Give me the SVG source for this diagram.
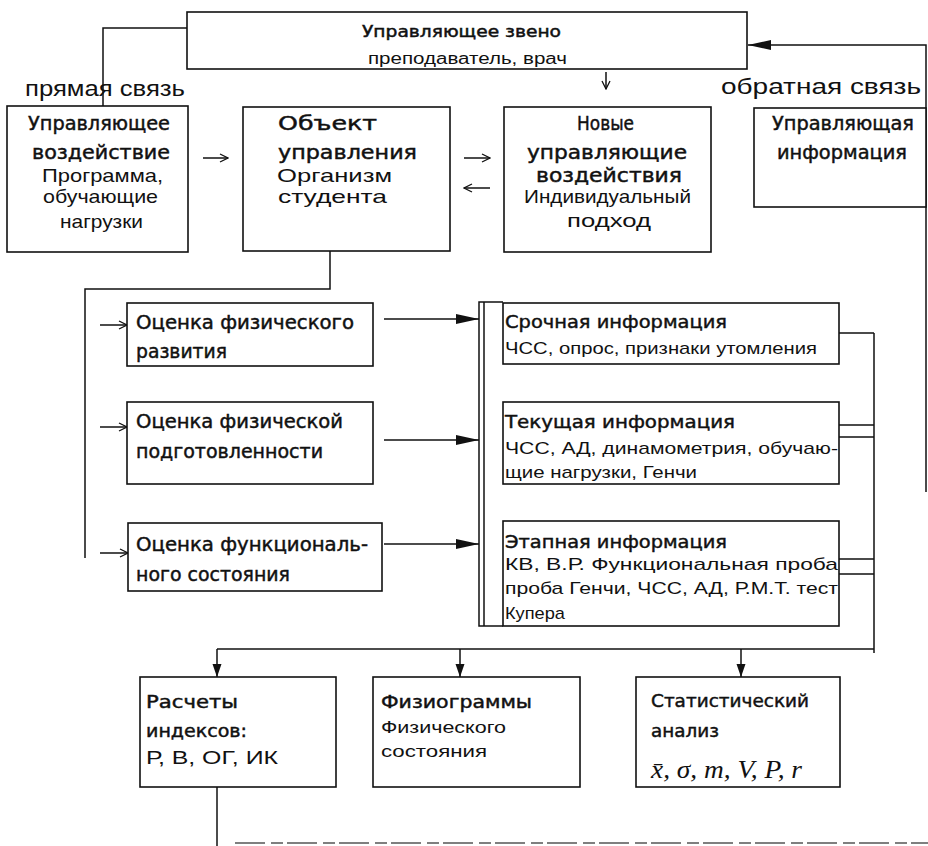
<svg xmlns="http://www.w3.org/2000/svg" width="928" height="846" viewBox="0 0 928 846">
<style>
.box{fill:#fff;stroke:#111;stroke-width:1.6}
.ln{fill:none;stroke:#111;stroke-width:1.5}
.h{font-family:"DejaVu Sans","Liberation Sans",sans-serif;fill:#111;stroke:#111;stroke-width:0.45}
.b{font-family:"Liberation Sans",Arial,sans-serif;fill:#111}
.m{font-family:"Liberation Serif","Times New Roman",serif;font-style:italic;fill:#111}
</style>
<defs>
<marker id="big" markerUnits="userSpaceOnUse" markerWidth="24" markerHeight="12" refX="23" refY="6" orient="auto"><path d="M0,1 L23,6 L0,11 z" fill="#111"/></marker>
<marker id="sm" markerUnits="userSpaceOnUse" markerWidth="14" markerHeight="10" refX="13" refY="5" orient="auto"><path d="M0,0.5 L13,5 L0,9.5 z" fill="#111"/></marker>
<marker id="open" markerUnits="userSpaceOnUse" markerWidth="10" markerHeight="10" refX="9" refY="5" orient="auto"><path d="M1,1 L9,5 L1,9" fill="none" stroke="#111" stroke-width="1.3"/></marker>
</defs>

<g id="connectors">
<path class="ln" d="M187,28 H103 V106"/>
<path class="ln" d="M926,492 V45 H748" marker-end="url(#big)"/>
<path class="ln" d="M606,72 V89" marker-end="url(#open)"/>
<path class="ln" d="M203,158 H228" marker-end="url(#open)"/>
<path class="ln" d="M464,158 H490" marker-end="url(#open)"/>
<path class="ln" d="M490,188 H464" marker-end="url(#open)"/>
<path class="ln" d="M330,251 V289 H85 V558"/>
<path class="ln" d="M100,325 H127" marker-end="url(#open)"/>
<path class="ln" d="M100,427 H127" marker-end="url(#open)"/>
<path class="ln" d="M100,553 H128" marker-end="url(#open)"/>
<path class="ln" d="M384,319 H479" marker-end="url(#big)"/>
<path class="ln" d="M384,440 H479" marker-end="url(#big)"/>
<path class="ln" d="M384,544 H479" marker-end="url(#big)"/>
<path class="ln" d="M503,302 H479 V626 H503"/>
<path class="ln" d="M484,302 V626"/>
<path class="ln" d="M839,333 H874 M839,425 H874 M839,437 H874 M839,559 H874 M839,574 H874 M874,333 V653"/>
<path class="ln" d="M217,649 H874"/>
<path class="ln" d="M217,649 V677" marker-end="url(#sm)"/>
<path class="ln" d="M460,649 V677" marker-end="url(#sm)"/>
<path class="ln" d="M741,649 V677" marker-end="url(#sm)"/>
<path class="ln" d="M217,787 V846"/>
<path d="M235,843 H928" fill="none" stroke="#555" stroke-width="1.5" stroke-dasharray="30,6,12,4"/>
</g>

<text class="b" x="25" y="96" font-size="22" textLength="160" lengthAdjust="spacingAndGlyphs">прямая связь</text>
<text class="b" x="721" y="94" font-size="22" textLength="200" lengthAdjust="spacingAndGlyphs">обратная связь</text>

<g id="top">
<rect class="box" x="187" y="12" width="560" height="57"/>
<text class="h" x="362" y="37" font-size="15" textLength="199" lengthAdjust="spacingAndGlyphs">Управляющее звено</text>
<text class="b" x="368" y="64" font-size="16" textLength="199" lengthAdjust="spacingAndGlyphs">преподаватель, врач</text>
</g>

<g id="box1">
<rect class="box" x="7" y="106" width="181" height="146"/>
<text class="h" x="28" y="130" font-size="19" textLength="142" lengthAdjust="spacingAndGlyphs">Управляющее</text>
<text class="h" x="32" y="159" font-size="19" textLength="138" lengthAdjust="spacingAndGlyphs">воздействие</text>
<text class="b" x="42" y="182" font-size="19" textLength="121" lengthAdjust="spacingAndGlyphs">Программа,</text>
<text class="b" x="43" y="203" font-size="19" textLength="115" lengthAdjust="spacingAndGlyphs">обучающие</text>
<text class="b" x="60" y="228" font-size="19" textLength="83" lengthAdjust="spacingAndGlyphs">нагрузки</text>
</g>

<g id="box2">
<rect class="box" x="243" y="107" width="207" height="144"/>
<text class="h" x="278" y="130" font-size="19" textLength="99" lengthAdjust="spacingAndGlyphs">Объект</text>
<text class="h" x="278" y="159" font-size="19" textLength="139" lengthAdjust="spacingAndGlyphs">управления</text>
<text class="b" x="277" y="182" font-size="19" textLength="115" lengthAdjust="spacingAndGlyphs">Организм</text>
<text class="b" x="278" y="203" font-size="19" textLength="109" lengthAdjust="spacingAndGlyphs">студента</text>
</g>

<g id="box3">
<rect class="box" x="504" y="107" width="207" height="145"/>
<text class="h" x="577" y="130" font-size="19" textLength="57" lengthAdjust="spacingAndGlyphs">Новые</text>
<text class="h" x="527" y="159" font-size="19" textLength="160" lengthAdjust="spacingAndGlyphs">управляющие</text>
<text class="h" x="536" y="182" font-size="19" textLength="146" lengthAdjust="spacingAndGlyphs">воздействия</text>
<text class="b" x="524" y="203" font-size="19" textLength="167" lengthAdjust="spacingAndGlyphs">Индивидуальный</text>
<text class="b" x="567" y="227" font-size="19" textLength="84" lengthAdjust="spacingAndGlyphs">подход</text>
</g>

<g id="box4">
<rect class="box" x="754" y="108" width="172" height="99"/>
<text class="h" x="772" y="130" font-size="19" textLength="142" lengthAdjust="spacingAndGlyphs">Управляющая</text>
<text class="h" x="777" y="159" font-size="19" textLength="130" lengthAdjust="spacingAndGlyphs">информация</text>
</g>

<g id="assessA">
<rect class="box" x="127" y="303" width="246" height="63"/>
<text class="h" x="136" y="329" font-size="19" textLength="218" lengthAdjust="spacingAndGlyphs">Оценка физического</text>
<text class="h" x="136" y="358" font-size="19" textLength="91" lengthAdjust="spacingAndGlyphs">развития</text>
</g>
<g id="assessB">
<rect class="box" x="127" y="402" width="246" height="82"/>
<text class="h" x="136" y="428" font-size="19" textLength="207" lengthAdjust="spacingAndGlyphs">Оценка физической</text>
<text class="h" x="136" y="458" font-size="19" textLength="187" lengthAdjust="spacingAndGlyphs">подготовленности</text>
</g>
<g id="assessC">
<rect class="box" x="128" y="523" width="254" height="68"/>
<text class="h" x="136" y="551" font-size="19" textLength="232" lengthAdjust="spacingAndGlyphs">Оценка функциональ-</text>
<text class="h" x="136" y="581" font-size="19" textLength="154" lengthAdjust="spacingAndGlyphs">ного состояния</text>
</g>

<g id="info1">
<rect class="box" x="503" y="303" width="336" height="61"/>
<text class="h" x="505" y="328" font-size="18" textLength="222" lengthAdjust="spacingAndGlyphs">Срочная информация</text>
<text class="b" x="505" y="354" font-size="17" textLength="312" lengthAdjust="spacingAndGlyphs">ЧСС, опрос, признаки утомления</text>
</g>
<g id="info2">
<rect class="box" x="503" y="402" width="336" height="82"/>
<text class="h" x="505" y="428" font-size="18" textLength="230" lengthAdjust="spacingAndGlyphs">Текущая информация</text>
<text class="b" x="505" y="454" font-size="17" textLength="333" lengthAdjust="spacingAndGlyphs">ЧСС, АД, динамометрия, обучаю-</text>
<text class="b" x="505" y="478" font-size="17" textLength="192" lengthAdjust="spacingAndGlyphs">щие нагрузки, Генчи</text>
</g>
<g id="info3">
<rect class="box" x="503" y="521" width="336" height="105"/>
<text class="h" x="505" y="548" font-size="18" textLength="222" lengthAdjust="spacingAndGlyphs">Этапная информация</text>
<text class="b" x="505" y="570" font-size="17" textLength="333" lengthAdjust="spacingAndGlyphs">КВ, В.Р. Функциональная проба</text>
<text class="b" x="505" y="594" font-size="17" textLength="333" lengthAdjust="spacingAndGlyphs">проба Генчи, ЧСС, АД, Р.М.Т. тест</text>
<text class="b" x="505" y="619" font-size="17" textLength="60" lengthAdjust="spacingAndGlyphs">Купера</text>
</g>

<g id="calc">
<rect class="box" x="140" y="677" width="196" height="110"/>
<text class="h" x="146" y="708" font-size="17" textLength="92" lengthAdjust="spacingAndGlyphs">Расчеты</text>
<text class="h" x="146" y="737" font-size="17" textLength="101" lengthAdjust="spacingAndGlyphs">индексов:</text>
<text class="b" x="146" y="764" font-size="18" textLength="132" lengthAdjust="spacingAndGlyphs">Р, В, ОГ, ИК</text>
</g>
<g id="physio">
<rect class="box" x="373" y="677" width="207" height="110"/>
<text class="h" x="381" y="708" font-size="17" textLength="151" lengthAdjust="spacingAndGlyphs">Физиограммы</text>
<text class="b" x="381" y="733" font-size="16" textLength="125" lengthAdjust="spacingAndGlyphs">Физического</text>
<text class="b" x="381" y="757" font-size="16" textLength="106" lengthAdjust="spacingAndGlyphs">состояния</text>
</g>
<g id="stat">
<rect class="box" x="636" y="677" width="204" height="110"/>
<text class="h" x="651" y="707" font-size="18" textLength="158" lengthAdjust="spacingAndGlyphs">Статистический</text>
<text class="h" x="651" y="737" font-size="18" textLength="68" lengthAdjust="spacingAndGlyphs">анализ</text>
<text class="m" x="651" y="778" font-size="26" textLength="151" lengthAdjust="spacingAndGlyphs">x̄, σ, m, V, P, r</text>
</g>
</svg>
